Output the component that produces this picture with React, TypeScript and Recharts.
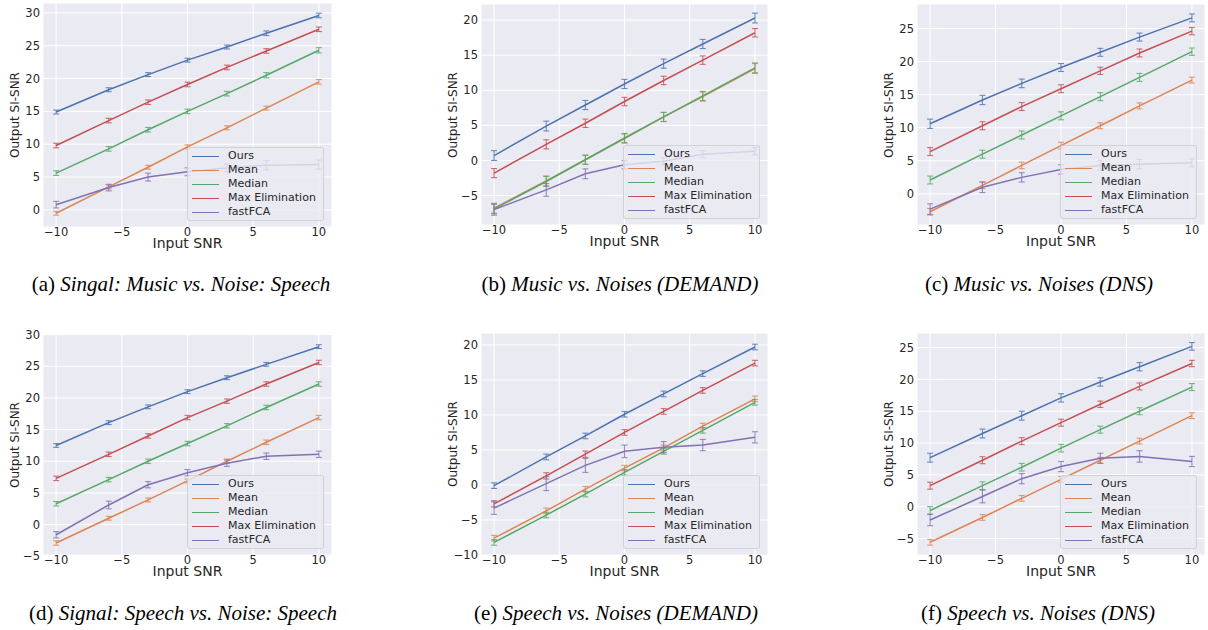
import React from 'react';
import { LineChart, Line, XAxis, YAxis, CartesianGrid, ErrorBar } from 'recharts';

const snr = [-10, -6, -3, 0, 3, 6, 10];
const methods = ['Ours', 'Mean', 'Median', 'Max Elimination', 'fastFCA'];
const colors = ['#4C72B0', '#DD8452', '#55A868', '#C44E52', '#8172B3'];
const xTicks = [-10, -5, 0, 5, 10];

// series order: Ours, Mean, Median, Max Elimination, fastFCA
const musicSpeech = [
  [14.9, 18.3, 20.6, 22.8, 24.8, 26.9, 29.6],
  [-0.5, 3.5, 6.5, 9.6, 12.5, 15.5, 19.5],
  [5.6, 9.3, 12.2, 15.0, 17.7, 20.5, 24.3],
  [9.8, 13.6, 16.4, 19.1, 21.7, 24.2, 27.5],
  [0.8, 3.4, 5.0, 5.8, 6.4, 6.8, 6.9],
];
const musicSpeechErr = [
  [0.3, 0.3, 0.3, 0.3, 0.3, 0.35, 0.35],
  [0.3, 0.3, 0.3, 0.3, 0.3, 0.3, 0.35],
  [0.35, 0.35, 0.35, 0.35, 0.35, 0.4, 0.4],
  [0.35, 0.35, 0.35, 0.35, 0.35, 0.35, 0.35],
  [0.5, 0.5, 0.6, 0.6, 0.6, 0.7, 0.7],
];

const musicDemand = [
  [0.7, 4.9, 7.9, 10.9, 13.8, 16.6, 20.3],
  [-6.8, -2.9, 0.1, 3.1, 6.2, 9.1, 13.1],
  [-6.9, -3.0, 0.1, 3.2, 6.2, 9.2, 13.2],
  [-1.8, 2.3, 5.3, 8.4, 11.4, 14.3, 18.2],
  [-7.0, -4.2, -1.9, -0.6, -0.1, 0.9, 1.3],
];
const musicDemandErr = [
  [0.7, 0.7, 0.65, 0.65, 0.65, 0.65, 0.7],
  [0.7, 0.7, 0.65, 0.65, 0.65, 0.65, 0.7],
  [0.7, 0.7, 0.65, 0.65, 0.65, 0.65, 0.7],
  [0.65, 0.65, 0.6, 0.6, 0.6, 0.6, 0.6],
  [0.8, 0.9, 0.7, 0.6, 0.5, 0.5, 0.5],
];

const musicDns = [
  [10.6, 14.2, 16.7, 19.1, 21.4, 23.7, 26.6],
  [-2.7, 1.3, 4.3, 7.3, 10.3, 13.3, 17.2],
  [2.1, 6.0, 8.9, 11.8, 14.7, 17.6, 21.5],
  [6.4, 10.3, 13.2, 15.9, 18.6, 21.3, 24.6],
  [-2.3, 1.0, 2.5, 3.7, 4.3, 4.5, 4.7],
];
const musicDnsErr = [
  [0.7, 0.7, 0.65, 0.6, 0.6, 0.6, 0.6],
  [0.5, 0.5, 0.5, 0.5, 0.45, 0.45, 0.45],
  [0.6, 0.6, 0.6, 0.6, 0.6, 0.6, 0.55],
  [0.6, 0.6, 0.6, 0.6, 0.55, 0.6, 0.55],
  [0.8, 0.8, 0.7, 0.7, 0.7, 0.7, 0.6],
];

const speechSpeech = [
  [12.5, 16.1, 18.6, 21.0, 23.2, 25.3, 28.1],
  [-2.9, 1.0, 3.9, 6.9, 10.0, 13.0, 16.9],
  [3.3, 7.1, 10.0, 12.8, 15.6, 18.5, 22.2],
  [7.3, 11.1, 14.0, 16.9, 19.5, 22.2, 25.6],
  [-1.6, 3.1, 6.3, 8.2, 9.7, 10.8, 11.1],
];
const speechSpeechErr = [
  [0.3, 0.3, 0.3, 0.3, 0.3, 0.3, 0.3],
  [0.35, 0.3, 0.3, 0.3, 0.35, 0.35, 0.35],
  [0.35, 0.35, 0.35, 0.35, 0.35, 0.35, 0.35],
  [0.35, 0.35, 0.35, 0.35, 0.35, 0.35, 0.35],
  [0.5, 0.6, 0.5, 0.5, 0.5, 0.5, 0.5],
];

const speechDemand = [
  [-0.1, 4.0, 7.0, 10.1, 13.0, 15.9, 19.7],
  [-7.6, -3.7, -0.6, 2.4, 5.3, 8.4, 12.3],
  [-8.2, -4.3, -1.3, 1.8, 4.8, 7.8, 11.8],
  [-2.7, 1.3, 4.4, 7.5, 10.5, 13.5, 17.4],
  [-3.3, 0.2, 2.8, 4.8, 5.4, 5.7, 6.8],
];
const speechDemandErr = [
  [0.4, 0.4, 0.4, 0.4, 0.4, 0.4, 0.4],
  [0.4, 0.4, 0.4, 0.4, 0.4, 0.4, 0.4],
  [0.4, 0.4, 0.4, 0.4, 0.4, 0.4, 0.4],
  [0.45, 0.45, 0.45, 0.4, 0.4, 0.4, 0.4],
  [0.9, 1.0, 1.0, 0.9, 0.8, 0.8, 0.8],
];

const speechDns = [
  [7.7, 11.5, 14.3, 17.1, 19.6, 22.0, 25.2],
  [-5.6, -1.7, 1.3, 4.3, 7.3, 10.3, 14.3],
  [-0.6, 3.3, 6.2, 9.2, 12.1, 15.0, 18.8],
  [3.3, 7.3, 10.3, 13.2, 16.1, 18.9, 22.5],
  [-2.1, 1.6, 4.4, 6.3, 7.6, 7.9, 7.1],
];
const speechDnsErr = [
  [0.7, 0.7, 0.7, 0.65, 0.65, 0.65, 0.6],
  [0.45, 0.45, 0.45, 0.45, 0.45, 0.45, 0.45],
  [0.6, 0.6, 0.6, 0.6, 0.55, 0.55, 0.55],
  [0.55, 0.55, 0.55, 0.55, 0.5, 0.55, 0.5],
  [0.9, 1.0, 0.8, 0.8, 0.8, 0.9, 0.8],
];

const panels = [
  { tag: '(a) ', title: 'Singal: Music vs. Noise: Speech', vals: musicSpeech, errs: musicSpeechErr,
    yDomain: [-2.6, 31.5], yTicks: [0, 5, 10, 15, 20, 25, 30], box: [43, 3, 332, 227], cap: [181, 284] },
  { tag: '(b) ', title: 'Music vs. Noises (DEMAND)', vals: musicDemand, errs: musicDemandErr,
    yDomain: [-9.2, 22.3], yTicks: [-5, 0, 5, 10, 15, 20], box: [481, 4, 768, 225], cap: [620, 284] },
  { tag: '(c) ', title: 'Music vs. Noises (DNS)', vals: musicDns, errs: musicDnsErr,
    yDomain: [-4.7, 28.7], yTicks: [0, 5, 10, 15, 20, 25], box: [917, 4, 1205, 225], cap: [1039, 284] },
  { tag: '(d) ', title: 'Signal: Speech vs. Noise: Speech', vals: speechSpeech, errs: speechSpeechErr,
    yDomain: [-4.8, 30.1], yTicks: [-5, 0, 5, 10, 15, 20, 25, 30], box: [43, 334, 332, 555], cap: [183, 613] },
  { tag: '(e) ', title: 'Speech vs. Noises (DEMAND)', vals: speechDemand, errs: speechDemandErr,
    yDomain: [-10, 21.7], yTicks: [-10, -5, 0, 5, 10, 15, 20], box: [481, 333, 768, 555], cap: [616, 613] },
  { tag: '(f) ', title: 'Speech vs. Noises (DNS)', vals: speechDns, errs: speechDnsErr,
    yDomain: [-7.6, 27.3], yTicks: [-5, 0, 5, 10, 15, 20, 25], box: [917, 333, 1205, 555], cap: [1038, 613] },
];

const sans = 'DejaVu Sans, Liberation Sans, sans-serif';
const ink = '#262626';
const fmt = (v: number) => String(v).replace('-', '\u2212');

const YW = 40;
const MT = 8;
const XH = 22;

function Panel({ p }: { p: any }) {
  const [pl, pt, pr, pb] = p.box;
  const rows = snr.map((x, i) => {
    const r: any = { x };
    p.vals.forEach((s: number[], k: number) => {
      r['s' + k] = s[i];
      r['e' + k] = p.errs[k][i];
    });
    return r;
  });
  const w = pr - pl + YW + 3;
  const h = pb - pt + MT + XH;
  return (
    <>
      <div style={{ position: 'absolute', left: pl - YW, top: pt - MT }}>
        <LineChart width={w} height={h} data={rows} margin={{ top: MT, right: 3, bottom: 0, left: 0 }}>
          <CartesianGrid fill="#EAEAF2" stroke="#FFFFFF" strokeWidth={1} />
          <XAxis type="number" dataKey="x" domain={[-11, 11]} ticks={xTicks} interval={0}
            height={XH} axisLine={false} tickLine={false} tickSize={0} tickMargin={1}
            tickFormatter={fmt} tick={{ fontSize: 11.5, fill: ink, fontFamily: sans }} />
          <YAxis type="number" domain={p.yDomain} ticks={p.yTicks} interval={0} allowDataOverflow
            width={YW} axisLine={false} tickLine={false} tickSize={0} tickMargin={3}
            tickFormatter={fmt} tick={{ fontSize: 11.5, fill: ink, fontFamily: sans }} />
          {methods.map((m, k) => (
            <Line key={m} type="linear" dataKey={'s' + k} name={m} stroke={colors[k]} strokeWidth={1.5}
              dot={false} activeDot={false} isAnimationActive={false}>
              <ErrorBar dataKey={'e' + k} direction="y" width={3} stroke={colors[k]} strokeWidth={1.1}
                strokeOpacity={0.8} isAnimationActive={false} />
            </Line>
          ))}
        </LineChart>
      </div>
      <div style={{
        position: 'absolute', left: pl - 28, top: (pt + pb) / 2, transform: 'translate(-50%, -50%) rotate(-90deg)',
        fontFamily: sans, fontSize: 12, color: ink, whiteSpace: 'nowrap', lineHeight: 1,
      }}>Output SI-SNR</div>
      <div style={{
        position: 'absolute', left: (pl + pr) / 2, top: pb + 16, transform: 'translate(-50%, -50%)',
        fontFamily: sans, fontSize: 14, color: ink, whiteSpace: 'nowrap', lineHeight: 1,
      }}>Input SNR</div>
      <div style={{
        position: 'absolute', left: pr - 8 - 137, top: pb - 6 - 74, width: 137, height: 74, boxSizing: 'border-box',
        border: '1px solid rgba(204,204,204,0.8)', borderRadius: 3, background: 'rgba(234,234,242,0.8)',
        padding: '1px 0',
      }}>
        {methods.map((m, k) => (
          <div key={m} style={{ height: 14, position: 'relative' }}>
            <div style={{ position: 'absolute', left: 4, top: 6.5, width: 27, height: 1.5, background: colors[k] }} />
            <div style={{
              position: 'absolute', left: 40, top: 0, lineHeight: '14px', fontFamily: sans, fontSize: 11,
              color: ink, whiteSpace: 'nowrap',
            }}>{m}</div>
          </div>
        ))}
      </div>
      <div style={{
        position: 'absolute', left: p.cap[0], top: p.cap[1], transform: 'translate(-50%, -50%)',
        fontFamily: '"Liberation Serif", "Times New Roman", serif', fontSize: 21, color: '#000', whiteSpace: 'nowrap',
        lineHeight: 1,
      }}>
        {p.tag}<i>{p.title}</i>
      </div>
    </>
  );
}

export default function App() {
  return (
    <div style={{ position: 'absolute', left: 0, top: 0, width: 1208, height: 630, background: '#fff', overflow: 'hidden' }}>
      {panels.map((p) => (
        <Panel key={p.tag} p={p} />
      ))}
    </div>
  );
}
